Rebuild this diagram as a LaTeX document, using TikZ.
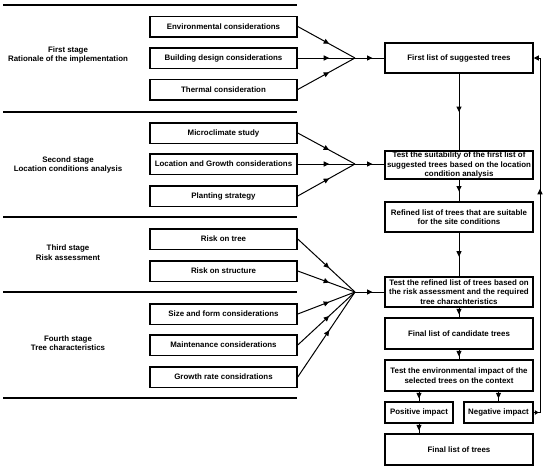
\documentclass[tikz,border=0pt]{standalone}
\usepackage{fontspec}
\setmainfont{Liberation Sans}
\usetikzlibrary{arrows.meta,decorations.markings}
\tikzset{
  box/.style={draw=black,line width=1.5pt,fill=white,inner sep=0pt,align=center,
    font=\bfseries\fontsize{7.9}{9.5}\selectfont},
  lbox/.style={box,minimum width=147pt,minimum height=20.5pt},
  rbox/.style={box,minimum width=148pt,minimum height=30pt},
  stagelbl/.style={align=center,inner sep=0pt,font=\bfseries\fontsize{7.9}{9.5}\selectfont},
  conn/.style={line width=1pt},
  sep/.style={line width=1.2pt},
  midarr/.style={conn,postaction={decorate},decoration={markings,
    mark=at position #1 with {\arrow{Triangle[length=5.5pt,width=5pt]}}}},
}
\begin{document}
\begin{tikzpicture}[x=1pt,y=-1pt]
\useasboundingbox[fill=white] (0,0) rectangle (550,472);
% separators
\foreach \yy in {5,112,217,292,398} \draw[sep] (3,\yy) -- (297,\yy);
% stage labels
\node[stagelbl] (st1) at (68,55) {First stage\\Rationale of the implementation};
\node[stagelbl] (st2) at (68,165) {Second stage\\Location conditions analysis};
\node[stagelbl] (st3) at (68,252.5) {Third stage\\Risk assessment};
\node[stagelbl] (st4) at (68,343) {Fourth stage\\Tree characteristics};
% left boxes
\node[lbox] (e1) at (223.5,26.5) {Environmental considerations};
\node[lbox] (e2) at (223.5,58) {Building design considerations};
\node[lbox] (e3) at (223.5,89.5) {Thermal consideration};
\node[lbox] (m1) at (223.5,133) {Microclimate study};
\node[lbox] (m2) at (223.5,164) {Location and Growth considerations};
\node[lbox] (m3) at (223.5,196) {Planting strategy};
\node[lbox] (r1) at (223.5,239) {Risk on tree};
\node[lbox] (r2) at (223.5,271) {Risk on structure};
\node[lbox] (s1) at (223.5,314) {Size and form considerations};
\node[lbox] (s2) at (223.5,345) {Maintenance considerations};
\node[lbox] (s3) at (223.5,377) {Growth rate considrations};
% right boxes
\node[rbox] (f1) at (459,58) {First list of suggested trees};
\node[rbox,minimum height=28pt] (t1) at (459,165) {Test the suitability of the first list of\\suggested trees based on the location\\condition analysis};
\node[rbox] (rf) at (459,217) {Refined list of trees that are suitable\\for the site conditions};
\node[rbox] (t2) at (459,292) {Test the refined list of trees based on\\the risk assessment and the required\\tree charachteristics};
\node[rbox,minimum height=31pt] (fc) at (459,333.5) {Final list of candidate trees};
\node[rbox,minimum height=31pt] (te) at (459,375.5) {Test the environmental impact of the\\selected trees on the context};
\node[box,minimum width=68pt,minimum height=21pt] (pos) at (419,412.5) {Positive impact};
\node[box,minimum width=69pt,minimum height=21pt] (neg) at (498.5,412.5) {Negative impact};
\node[rbox,minimum height=31pt] (fl) at (459,449.5) {Final list of trees};
% convergence points
\coordinate (c1) at (355,58);
\coordinate (c2) at (355,164);
\coordinate (c3) at (355,292);
\foreach \n in {e1,e2,e3} \draw[midarr=0.55] (\n.east) -- (c1);
\foreach \n in {m1,m2,m3} \draw[midarr=0.55] (\n.east) -- (c2);
\foreach \n in {r1,r2,s1,s2,s3} \draw[midarr=0.55] (\n.east) -- (c3);
\draw[midarr=0.6] (c1) -- (f1.west);
\draw[midarr=0.6] (c2) -- (t1.west |- c2);
\draw[midarr=0.6] (c3) -- (t2.west);
% vertical flow
\draw[midarr=0.5] (f1.south) -- (t1.north);
\draw[midarr=0.55] (t1.south) -- (rf.north);
\draw[midarr=0.55] (rf.south) -- (t2.north);
\draw[midarr=0.7] (t2.south) -- (fc.north);
\draw[midarr=0.7] (fc.south) -- (te.north);
\draw[midarr=0.7] (te.south -| pos.north) -- (pos.north);
\draw[midarr=0.7] (te.south -| neg.north) -- (neg.north);
\draw[midarr=0.7] (pos.south) -- (fl.north -| pos.south);
% feedback loop
\coordinate (fb1) at (540,412.5);
\coordinate (fb2) at (540,58);
\draw[conn,postaction={decorate},decoration={markings,
  mark=at position 5pt with {\arrow{Triangle[length=4pt,width=4.5pt]}},
  mark=at position 230pt with {\arrow{Triangle[length=5.5pt,width=5pt]}}},
  -{Triangle[length=5pt,width=5pt]}]
  (neg.east) -- (fb1) -- (fb2) -- (f1.east);
\end{tikzpicture}
\end{document}
